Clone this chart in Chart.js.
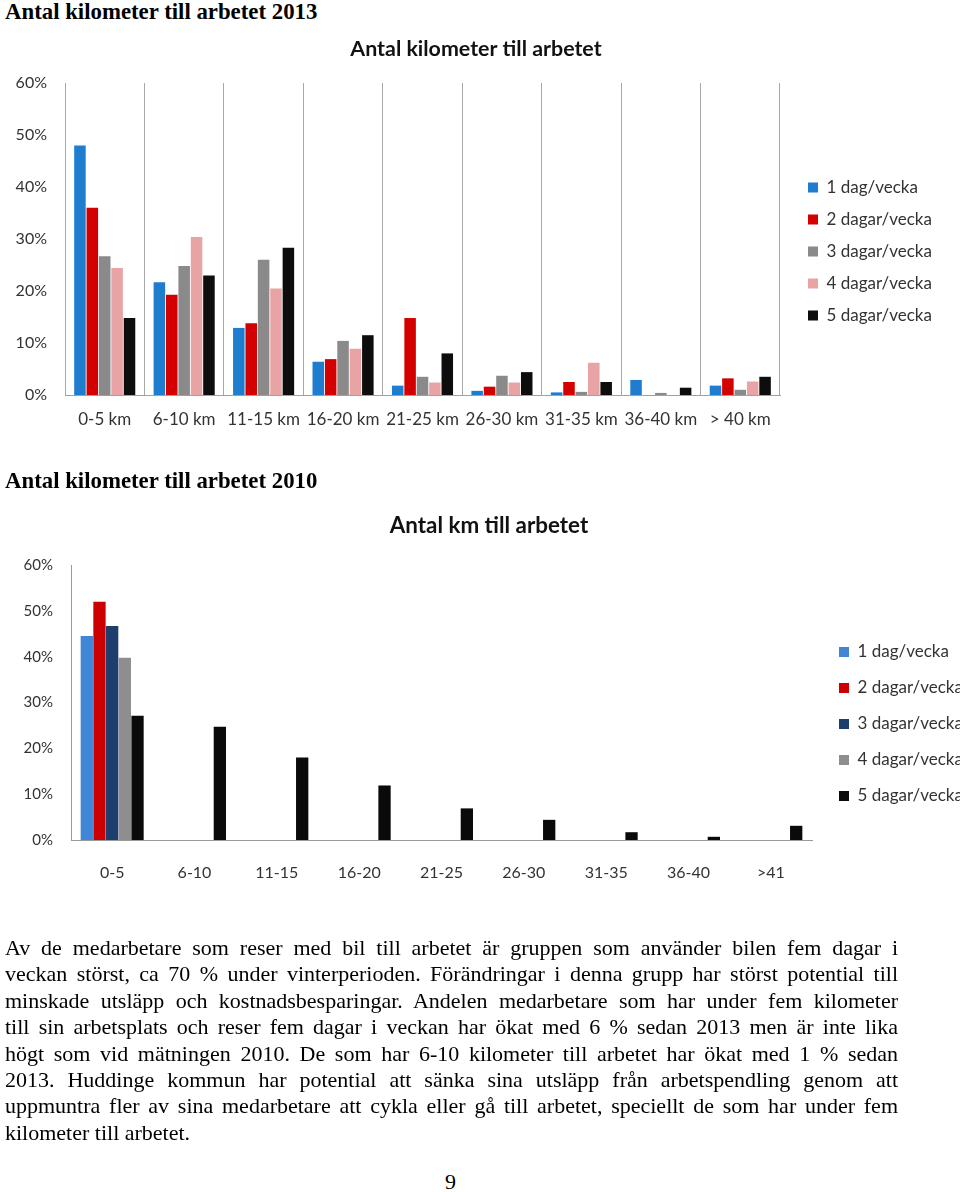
<!DOCTYPE html>
<html><head><meta charset="utf-8">
<script src="https://cdn.jsdelivr.net/npm/chart.js@4/dist/chart.umd.min.js"></script>
<style>
html,body{margin:0;padding:0;background:#fff;overflow:hidden;width:960px;height:1192px;position:relative;}
.h{position:absolute;left:5px;font-family:"Liberation Serif","Times New Roman",serif;font-weight:bold;font-size:22.8px;line-height:26px;color:#000;z-index:3;white-space:nowrap;}
.cw{position:absolute;left:0;z-index:1;}
#txt{position:absolute;left:5px;top:935px;width:893px;font-family:"Liberation Serif","Times New Roman",serif;font-size:22px;line-height:26.4px;color:#000;z-index:3;}
#txt div{text-align:justify;text-align-last:justify;white-space:nowrap;}
#txt div.last{text-align:left;text-align-last:left;}
#pg{position:absolute;left:445px;top:1169px;font-family:"Liberation Serif","Times New Roman",serif;font-size:22px;line-height:26px;z-index:3;}
</style>
</head>
<body>
<div class="h" style="top:-1px">Antal kilometer till arbetet 2013</div>
<div class="cw" id="w1" style="top:30px;width:960px;height:443px"><canvas id="c1"></canvas></div>
<div class="h" style="top:468px">Antal kilometer till arbetet 2010</div>
<div class="cw" id="w2" style="top:500px;width:960px;height:448px"><canvas id="c2"></canvas></div>
<div id="txt">
<div>Av de medarbetare som reser med bil till arbetet är gruppen som använder bilen fem dagar i</div>
<div>veckan störst, ca 70 % under vinterperioden. Förändringar i denna grupp har störst potential till</div>
<div>minskade utsläpp och kostnadsbesparingar. Andelen medarbetare som har under fem kilometer</div>
<div>till sin arbetsplats och reser fem dagar i veckan har ökat med 6 % sedan 2013 men är inte lika</div>
<div>högt som vid mätningen 2010. De som har 6-10 kilometer till arbetet har ökat med 1 % sedan</div>
<div>2013. Huddinge kommun har potential att sänka sina utsläpp från arbetspendling genom att</div>
<div>uppmuntra fler av sina medarbetare att cykla eller gå till arbetet, speciellt de som har under fem</div>
<div class="last">kilometer till arbetet.</div>
</div>
<div id="pg">9</div>
<script>
// ---- Data: 2013 ----
const categories2013 = ['0-5 km','6-10 km','11-15 km','16-20 km','21-25 km','26-30 km','31-35 km','36-40 km','> 40 km'];
const seriesNames = ['1 dag/vecka','2 dagar/vecka','3 dagar/vecka','4 dagar/vecka','5 dagar/vecka'];
const y2013_1dag = [48.0, 21.7, 12.9, 6.4, 1.8, 0.8, 0.5, 2.9, 1.8];
const y2013_2dagar = [36.0, 19.3, 13.8, 6.9, 14.8, 1.6, 2.5, 0, 3.2];
const y2013_3dagar = [26.7, 24.8, 26.0, 10.4, 3.5, 3.7, 0.6, 0.4, 1.0];
const y2013_4dagar = [24.4, 30.4, 20.5, 8.9, 2.4, 2.4, 6.2, 0, 2.6];
const y2013_5dagar = [14.8, 23.0, 28.3, 11.5, 8.0, 4.4, 2.5, 1.4, 3.5];
// ---- Data: 2010 ----
const categories2010 = ['0-5','6-10','11-15','16-20','21-25','26-30','31-35','36-40','>41'];
const y2010_1dag = [44.5, 0, 0, 0, 0, 0, 0, 0, 0];
const y2010_2dagar = [52.0, 0, 0, 0, 0, 0, 0, 0, 0];
const y2010_3dagar = [46.7, 0, 0, 0, 0, 0, 0, 0, 0];
const y2010_4dagar = [39.8, 0, 0, 0, 0, 0, 0, 0, 0];
const y2010_5dagar = [27.1, 24.7, 18.0, 11.9, 6.9, 4.4, 1.7, 0.7, 3.1];
const yMax = 60;
const yStep = 10;
const pct = v => v + '%';

const colors2013 = ['#1f7dd0','#d40000','#8a8a8a','#e8a4a4','#0d0d0d'];
const colors2010 = ['#3f87d6','#cc0000','#1e3f6e','#8e8e8e','#0a0a0a'];

const FONT = 'Lato, "Open Sans", sans-serif';
const LEG_FS = 17, BOXW = 10;

function maxTextW(size, arr){
  const c = document.createElement('canvas').getContext('2d');
  c.font = size + 'px ' + FONT;
  return Math.max(...arr.map(t => c.measureText(t).width));
}
function mkSets(names, arrs, cols){
  return arrs.map((a,i)=>({label:names[i], data:a, backgroundColor:cols[i], borderWidth:0}));
}

const tw = maxTextW(LEG_FS, seriesNames);

// ---- layout geometry chart 1 ----
const P1 = 15, SP1 = 13;
const Lw1 = P1 + BOXW + LEG_FS/2 + tw + 10;
const W1 = Math.ceil(Math.max(960, 780 + SP1 + Lw1));
const pR1 = W1 - 780 - SP1 - Lw1;
const pL1 = Math.max(0, 952 - W1 + pR1);
const yW1 = 65 - pL1;
document.getElementById('w1').style.width = W1 + 'px';

// ---- layout geometry chart 2 ----
const P2 = 19, SP2 = 8;
const Lw2 = P2 + BOXW + LEG_FS/2 + tw + 10;
const W2 = Math.ceil(Math.max(960, 812 + SP2 + Lw2));
const pR2 = W2 - 812 - SP2 - Lw2;
const pL2 = Math.max(0, 978 - W2 + pR2);
const yW2 = 71 - pL2;
document.getElementById('w2').style.width = W2 + 'px';

// ---- Chart 2013 ----
new Chart(document.getElementById('c1'), {
  type:'bar',
  data:{labels:categories2013, datasets:mkSets(seriesNames,[y2013_1dag,y2013_2dagar,y2013_3dagar,y2013_4dagar,y2013_5dagar],colors2013)},
  options:{
    responsive:true, maintainAspectRatio:false, animation:false,
    datasets:{bar:{categoryPercentage:0.78, barPercentage:0.93}},
    layout:{padding:{left:pL1, right:pR1, top:0, bottom:0}},
    plugins:{
      tooltip:{enabled:false},
      title:{display:true, text:'Antal kilometer till arbetet', color:'#111',
        font:{family:FONT, size:21.4, weight:'bold', lineHeight:1.2}, padding:{top:6.2, bottom:21.1}},
      legend:{display:true, position:'right', align:'center',
        labels:{boxWidth:BOXW, boxHeight:10, padding:P1, color:'#333', font:{family:FONT, size:LEG_FS}}}
    },
    scales:{
      x:{offset:true,
        grid:{display:true, offset:true, color:'#a8a8a8', lineWidth:1, drawTicks:false},
        border:{display:true, color:'#a0a0a0'},
        ticks:{color:'#333', font:{family:FONT, size:17}, padding:14, maxRotation:0, autoSkip:false},
        afterFit:s=>{s.height=78;}},
      y:{min:0, max:yMax, grid:{display:false, drawTicks:false}, border:{display:false},
        ticks:{stepSize:yStep, callback:pct, color:'#333', font:{family:FONT, size:16}, padding:18},
        afterFit:s=>{s.width=yW1;}},
      spacer:{type:'linear', position:'right', display:true, grid:{display:false, drawTicks:false}, border:{display:false},
        ticks:{display:false}, afterFit:s=>{s.width=SP1;}}
    }
  }
});

// ---- Chart 2010 ----
new Chart(document.getElementById('c2'), {
  type:'bar',
  data:{labels:categories2010, datasets:mkSets(seriesNames,[y2010_1dag,y2010_2dagar,y2010_3dagar,y2010_4dagar,y2010_5dagar],colors2010)},
  options:{
    responsive:true, maintainAspectRatio:false, animation:false,
    datasets:{bar:{categoryPercentage:0.77, barPercentage:0.97}},
    layout:{padding:{left:pL2, right:pR2, top:0, bottom:0}},
    plugins:{
      tooltip:{enabled:false},
      title:{display:true, text:'Antal km till arbetet', color:'#111',
        font:{family:FONT, size:22.4, weight:'bold', lineHeight:1.2}, padding:{top:12.6, bottom:25.6}},
      legend:{display:true, position:'right', align:'center',
        labels:{boxWidth:BOXW, boxHeight:10, padding:P2, color:'#333', font:{family:FONT, size:LEG_FS}}}
    },
    scales:{
      x:{offset:true,
        grid:{display:false, drawTicks:false},
        border:{display:true, color:'#9a9a9a'},
        ticks:{color:'#333', font:{family:FONT, size:16}, padding:23, maxRotation:0, autoSkip:false},
        afterFit:s=>{s.height=108;}},
      y:{min:0, max:yMax, grid:{display:false, drawTicks:false}, border:{display:true, color:'#9a9a9a'},
        ticks:{stepSize:yStep, callback:pct, color:'#333', font:{family:FONT, size:15}, padding:18},
        afterFit:s=>{s.width=yW2;}},
      spacer:{type:'linear', position:'right', display:true, grid:{display:false, drawTicks:false}, border:{display:false},
        ticks:{display:false}, afterFit:s=>{s.width=SP2;}}
    }
  }
});
</script>
</body></html>
